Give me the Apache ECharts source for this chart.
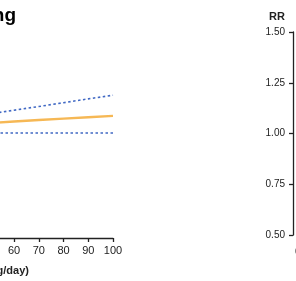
<!DOCTYPE html>
<html>
<head>
<meta charset="utf-8">
<script src="https://cdn.jsdelivr.net/npm/echarts@6/dist/echarts.min.js"></script>
<style>
  html, body { margin: 0; padding: 0; overflow: hidden; background: #fff; }
  #wrap { position: relative; width: 296px; height: 281px; overflow: hidden; }
  #chart { position: absolute; left: -180px; top: 0; width: 700px; height: 281px; }
</style>
</head>
<body>
<div id="wrap"><div id="chart"></div></div>
<script>
// dose (g/day) and relative risk
const doses = [0, 10, 20, 30, 40, 50, 60, 70, 80, 90, 100];
const rrMain = [1.000, 1.011, 1.021, 1.031, 1.040, 1.049, 1.057, 1.064, 1.071, 1.078, 1.085];
const rrUpper = [1.000, 1.019, 1.037, 1.056, 1.075, 1.094, 1.113, 1.131, 1.150, 1.169, 1.187];
const rrLower = [1.000, 1.000, 1.000, 1.000, 1.000, 1.000, 1.000, 1.000, 1.000, 1.000, 1.000];

const font = "'Liberation Sans', Arial, sans-serif";
const ink = '#222';

const pairs = (ys) => doses.map((d, i) => [d, ys[i]]);

const xAxisBase = (gridIndex, name) => ({
  type: 'value',
  gridIndex: gridIndex,
  min: 0,
  max: 100,
  interval: 10,
  offset: 4,
  name: name,
  nameLocation: 'middle',
  nameGap: 27,
  nameTextStyle: { fontFamily: font, fontSize: 11, fontWeight: 'bold', color: ink },
  axisLine: { show: true, onZero: false, lineStyle: { color: ink, width: 1.3 } },
  axisTick: { show: true, length: 4, lineStyle: { color: ink, width: 1.3 } },
  axisLabel: { margin: 7, fontFamily: font, fontSize: 11, color: ink },
  splitLine: { show: false }
});

const yAxisBase = (gridIndex) => ({
  type: 'value',
  gridIndex: gridIndex,
  min: 0.5,
  max: 1.5,
  interval: 0.25,
  offset: 5,
  name: 'RR',
  nameLocation: 'end',
  nameGap: 10,
  nameTextStyle: { fontFamily: font, fontSize: 11, fontWeight: 'bold', color: ink, padding: [0, 32, 0, 0] },
  axisLine: { show: true, onZero: false, lineStyle: { color: ink, width: 1.3 } },
  axisTick: { show: true, length: 4, lineStyle: { color: ink, width: 1.3 } },
  axisLabel: { margin: 8, fontFamily: font, fontSize: 10, color: ink, formatter: (v) => v.toFixed(2) },
  splitLine: { show: false }
});

const chart = echarts.init(document.getElementById('chart'));

chart.setOption({
  animation: false,
  backgroundColor: '#fff',
  graphic: [
    {
      type: 'text',
      x: 196,
      y: 16,
      style: {
        text: 'Drinking',
        font: "bold 19px 'Liberation Sans', Arial, sans-serif",
        fill: '#000',
        textAlign: 'right',
        textVerticalAlign: 'middle'
      }
    }
  ],
  grid: [
    { left: 45.5, top: 32, width: 247.5, height: 203 },
    { left: 478, top: 32, width: 200, height: 203 }
  ],
  xAxis: [xAxisBase(0, 'Alcohol (g/day)'), xAxisBase(1, '')],
  yAxis: [yAxisBase(0), yAxisBase(1)],
  series: [
    {
      name: 'Upper CI',
      type: 'line',
      xAxisIndex: 0,
      yAxisIndex: 0,
      data: pairs(rrUpper),
      symbol: 'none',
      lineStyle: { color: '#4169c4', width: 1.6, type: [2.5, 2.5] }
    },
    {
      name: 'Lower CI',
      type: 'line',
      xAxisIndex: 0,
      yAxisIndex: 0,
      data: pairs(rrLower),
      symbol: 'none',
      lineStyle: { color: '#4169c4', width: 1.6, type: [2.5, 2.5] }
    },
    {
      name: 'RR',
      type: 'line',
      xAxisIndex: 0,
      yAxisIndex: 0,
      data: pairs(rrMain),
      symbol: 'none',
      lineStyle: { color: '#f6b855', width: 2.4 }
    }
  ]
});
</script>
</body>
</html>
